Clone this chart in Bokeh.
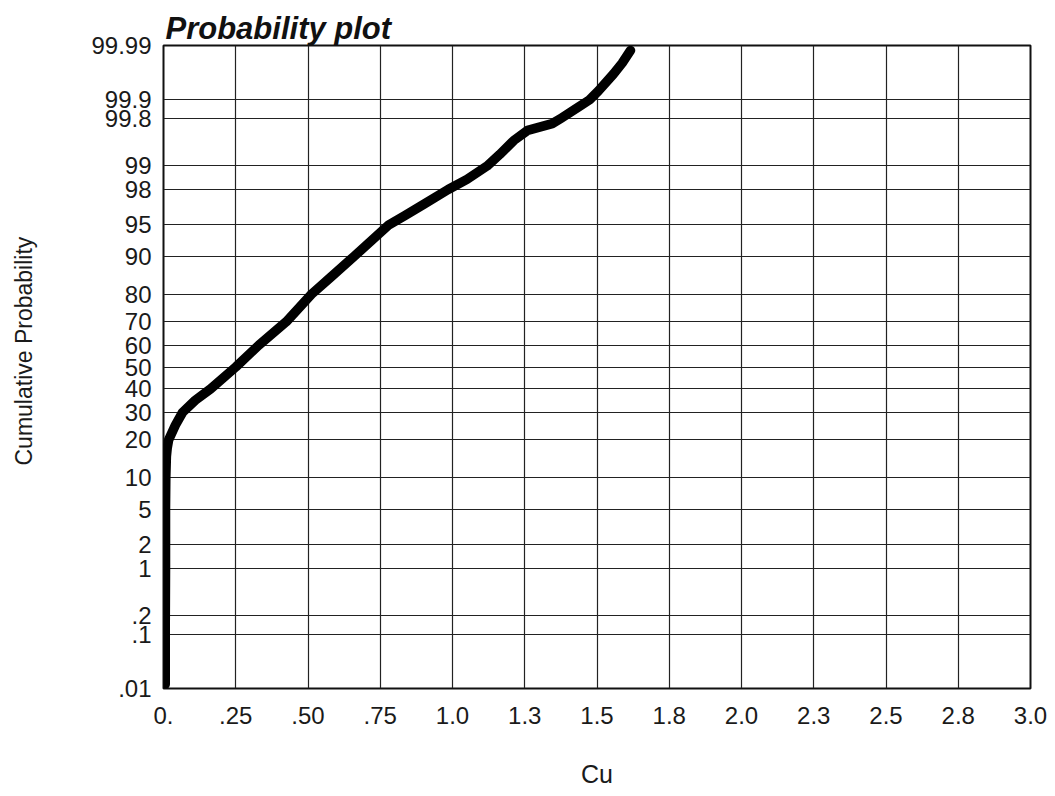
from statistics import NormalDist
from bokeh.plotting import figure
from bokeh.models import FixedTicker, CustomJSTickFormatter, Range1d, Title
from bokeh.embed import file_html
from bokeh.resources import INLINE

nd = NormalDist()


def z(pct):
    return nd.inv_cdf(pct / 100.0)


# ---- data ----
cu_values = [0.006, 0.006, 0.007, 0.007, 0.008, 0.010, 0.013, 0.018, 0.041, 0.066,
             0.110, 0.163, 0.250, 0.330, 0.425, 0.512, 0.578, 0.660, 0.780, 0.835,
             0.900, 0.985, 1.050, 1.120, 1.163, 1.212, 1.260, 1.345, 1.376, 1.436,
             1.474, 1.505, 1.557, 1.587, 1.616]
cum_prob = [0.012, 0.1, 1, 5, 10, 15, 17.5, 20, 25, 30,
            35, 40, 50, 60, 70, 80, 85, 90, 95, 96,
            97, 98, 98.5, 99, 99.3, 99.56, 99.69, 99.756, 99.8, 99.868,
            99.9, 99.93, 99.965, 99.978, 99.9875]

y_tick_pct = [0.01, 0.1, 0.2, 1, 2, 5, 10, 20, 30, 40, 50, 60, 70, 80, 90,
              95, 98, 99, 99.8, 99.9, 99.99]
y_tick_labels = [".01", ".1", ".2", "1", "2", "5", "10", "20", "30", "40", "50",
                 "60", "70", "80", "90", "95", "98", "99", "99.8", "99.9", "99.99"]
x_ticks = [0.0, 0.25, 0.5, 0.75, 1.0, 1.25, 1.5, 1.75, 2.0, 2.25, 2.5, 2.75, 3.0]
x_tick_labels = ["0.", ".25", ".50", ".75", "1.0", "1.3", "1.5", "1.8", "2.0",
                 "2.3", "2.5", "2.8", "3.0"]

y_ticks_z = [z(v) for v in y_tick_pct]
y_data = [z(v) for v in cum_prob]

FONT = "Liberation Sans"

p = figure(width=1055, height=796,
           x_range=Range1d(0, 3.0), y_range=Range1d(z(0.01), z(99.99)),
           output_backend="svg", toolbar_location=None,
           min_border_left=163, min_border_right=25,
           min_border_top=45, min_border_bottom=108,
           x_axis_label="Cu")

p.title.text = "Probability plot"
p.title.text_font = FONT
p.title.text_font_style = "bold italic"
p.title.text_font_size = "31px"
p.title.align = "left"
p.title.offset = 2
p.title.standoff = 0
p.title.text_color = "#111111"

lookup_code = """
let best = 0;
let bd = Infinity;
for (let j = 0; j < vals.length; j++) {
  const d = Math.abs(vals[j] - tick);
  if (d < bd) { bd = d; best = j; }
}
return labels[best];
"""

p.xaxis.ticker = FixedTicker(ticks=x_ticks)
p.xaxis.formatter = CustomJSTickFormatter(args=dict(vals=x_ticks, labels=x_tick_labels), code=lookup_code)
p.yaxis.ticker = FixedTicker(ticks=y_ticks_z)
p.yaxis.formatter = CustomJSTickFormatter(args=dict(vals=y_ticks_z, labels=y_tick_labels), code=lookup_code)

for ax in (p.xaxis, p.yaxis):
    ax.axis_line_color = None
    ax.major_tick_line_color = None
    ax.minor_tick_line_color = None
    ax.major_label_text_font = FONT
    ax.major_label_text_font_size = "24px"
    ax.major_label_text_color = "#1a1a1a"
    ax.axis_label_text_font = FONT
    ax.axis_label_text_font_size = "25px"
    ax.axis_label_text_font_style = "normal"
    ax.axis_label_text_color = "#1a1a1a"

p.xaxis.major_label_standoff = 12
p.yaxis.major_label_standoff = 6
p.xaxis.axis_label_standoff = 33

# blank gap between the tick labels and the y title
gap = Title(text=" ", text_font_size="1px", standoff=47)
p.add_layout(gap, "left")

# y-axis title as a side title, offset upward like the reference
ytitle = Title(text="Cumulative Probability", align="left", offset=223,
               vertical_align="top",
               text_font=FONT, text_font_size="23px", text_font_style="normal",
               text_color="#1a1a1a", standoff=0)
p.add_layout(ytitle, "left")

p.xgrid.ticker = FixedTicker(ticks=x_ticks)
p.ygrid.ticker = FixedTicker(ticks=y_ticks_z)
for g in (p.xgrid, p.ygrid):
    g.grid_line_color = "#222222"
    g.grid_line_width = 1.2

p.outline_line_color = "#111111"
p.outline_line_width = 2
p.background_fill_color = "white"
p.border_fill_color = "white"

p.line(cu_values, y_data, line_color="black", line_width=9.5,
       line_join="round", line_cap="round")

open("out.html", "w").write(file_html(p, INLINE))
